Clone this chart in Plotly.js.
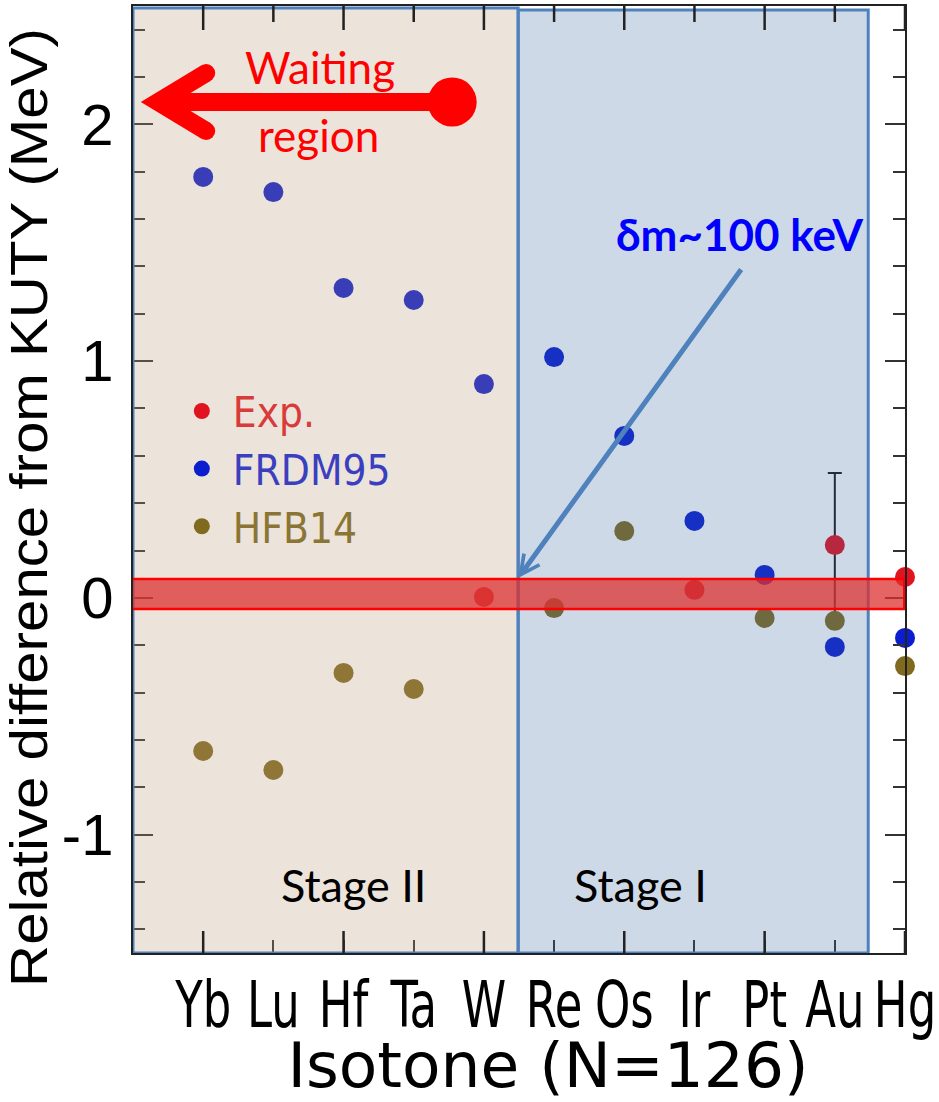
<!DOCTYPE html>
<html><head><meta charset="utf-8">
<script src="https://cdn.plot.ly/plotly-3.0.1.min.js"></script>
<style>html,body{margin:0;padding:0;background:#fff}#chart{width:939px;height:1102px}</style>
</head><body><div id="chart"></div>
<script>
// ---- data ----
const isotones = ['Yb','Lu','Hf','Ta','W','Re','Os','Ir','Pt','Au','Hg'];
const frdmNames = ['Yb','Lu','Hf','Ta','W','Re','Os','Ir','Pt','Au','Hg'];
const frdm95 = [1.778, 1.714, 1.309, 1.258, 0.903, 1.017, 0.684, 0.325, 0.097, -0.207, -0.169];
const hfbNames = ['Yb','Lu','Hf','Ta','Re','Os','Pt','Au','Hg'];
const hfb14 = [-0.647, -0.727, -0.317, -0.385, -0.043, 0.282, -0.085, -0.097, -0.288];
const expNames = ['W','Ir','Au','Hg'];
const expValues = [0.004, 0.034, 0.223, 0.088];
const expErrors = [NaN, NaN, 0.304, NaN];
const yTickVals = [-1, 0, 1, 2];
const yTickLabels = ['-1', '0', '1', '2'];

const idx = n => isotones.indexOf(n);
const allIdx = isotones.map((_, i) => i);
const evenIdx = allIdx.filter(i => i % 2 === 0);

const COND = '"DejaVu Sans Condensed", "Liberation Sans Narrow", sans-serif';
const ARIAL = '"Liberation Sans", Arial, sans-serif';
const CAL = 'Lato, "Open Sans", sans-serif';

const PLOT_H = 1102 - 6 - 149;   // plot-area height in px (for tick lengths in paper units)

const traces = [
  {
    type: 'scatter', mode: 'markers', name: '<span style="color:#D93A3A">Exp.</span>',
    x: expNames.map(idx), y: expValues, cliponaxis: false,
    marker: {color: '#E1131F', size: 20},
    error_y: {type: 'data', array: expErrors, visible: true, color: '#1a1a1a', thickness: 2, width: 7}
  },
  {
    type: 'scatter', mode: 'markers', name: '<span style="color:#3A3FBF">FRDM95</span>',
    x: frdmNames.map(idx), y: frdm95, cliponaxis: false,
    marker: {color: '#0A1ED0', size: 20}
  },
  {
    type: 'scatter', mode: 'markers', name: '<span style="color:#8B7535">HFB14</span>',
    x: hfbNames.map(idx), y: hfb14, cliponaxis: false,
    marker: {color: '#806A20', size: 20}
  }
];

// tick marks along the top edge and the longer bottom ticks at every second category
const tickShape = (i, yBase, lenPx, dir) => ({
  type: 'line', xref: 'x', yref: 'paper', layer: 'above', x0: i, x1: i,
  y0: yBase, y1: yBase + dir * lenPx / PLOT_H, line: {color: '#222', width: 2.5}
});
const tickShapes = [
  ...allIdx.map(i => tickShape(i, 1, evenIdx.includes(i) ? 24 : 16, -1)),
  ...evenIdx.map(i => tickShape(i, 0, 22, 1))
];

const shapes = [
  // Stage II region (tan, translucent)
  {type: 'rect', xref: 'x', yref: 'y', x0: -1, x1: 4.488, y0: -1.5, y1: 2.492, layer: 'above',
   fillcolor: 'rgba(185,152,119,0.27)', line: {color: '#4F81BD', width: 3}},
  // Stage I region (blue, translucent)
  {type: 'rect', xref: 'x', yref: 'y', x0: 4.488, x1: 9.476, y0: -1.5, y1: 2.483, layer: 'above',
   fillcolor: 'rgba(60,105,160,0.25)', line: {color: '#4F81BD', width: 3}},
  ...tickShapes,
  // red band around zero
  {type: 'rect', xref: 'x', yref: 'y', x0: -1.04, x1: 9.99, y0: -0.047, y1: 0.080, layer: 'above',
   fillcolor: 'rgba(220,50,50,0.75)', line: {color: '#FF0000', width: 2.5}},
  // waiting-region arrow: shaft
  {type: 'line', xref: 'x', yref: 'y', x0: -0.641, x1: 3.548, y0: 2.0945, y1: 2.0945, layer: 'above',
   line: {color: '#FF0000', width: 18}},
  // head
  {type: 'path', xref: 'x', yref: 'y', layer: 'above',
   path: 'M 0.043,2.217 L -0.641,2.0945 L 0.043,1.972', line: {color: '#FF0000', width: 18}},
  // round ends of head
  {type: 'circle', xref: 'x', yref: 'y', layer: 'above', x0: -0.0855, x1: 0.171, y0: 2.179, y1: 2.255,
   fillcolor: '#FF0000', line: {width: 0}},
  {type: 'circle', xref: 'x', yref: 'y', layer: 'above', x0: -0.0855, x1: 0.171, y0: 1.934, y1: 2.010,
   fillcolor: '#FF0000', line: {width: 0}},
  // dot at the tail
  {type: 'circle', xref: 'x', yref: 'y', layer: 'above', x0: 3.199, x1: 3.897, y0: 1.991, y1: 2.198,
   fillcolor: '#FF0000', line: {width: 0}}
];

const annotations = [
  {xref: 'x', yref: 'y', x: 1.667, y: 2.242, text: 'Waiting', showarrow: false,
   font: {family: CAL, size: 44, color: '#FF0000'}},
  {xref: 'x', yref: 'y', x: 1.639, y: 1.955, text: 'region', showarrow: false,
   font: {family: CAL, size: 44, color: '#FF0000'}},
  {xref: 'x', yref: 'y', x: 7.652, y: 1.537, text: '<b>δm~100 keV</b>', showarrow: false,
   font: {family: CAL, size: 44, color: '#0000FF'}},
  {xref: 'x', yref: 'y', x: 4.488, y: 0.084, axref: 'x', ayref: 'y', ax: 7.68, ay: 1.393,
   text: '', showarrow: true, arrowhead: 5, arrowsize: 0.75, arrowwidth: 5, arrowcolor: '#4F81BD', standoff: 0},
  {xref: 'x', yref: 'y', x: 2.137, y: -1.213, text: 'Stage II', showarrow: false,
   font: {family: CAL, size: 45, color: '#000'}},
  {xref: 'x', yref: 'y', x: 6.227, y: -1.213, text: 'Stage I', showarrow: false,
   font: {family: CAL, size: 45, color: '#000'}}
];

const layout = {
  width: 939, height: 1102,
  margin: {l: 133, r: 34, t: 6, b: 149},
  paper_bgcolor: '#fff', plot_bgcolor: '#fff',
  showlegend: true,
  legend: {x: 0.049, y: 0.608, xanchor: 'left', yanchor: 'top', bgcolor: 'rgba(0,0,0,0)',
           font: {family: COND, size: 42, color: '#000'}, itemwidth: 52},
  xaxis: {
    range: [-1, 10], tickmode: 'array', tickvals: allIdx, ticktext: isotones, tickangle: 0,
    ticks: 'inside', ticklen: 13, tickwidth: 2, tickcolor: '#333',
    showline: true, linecolor: '#222', linewidth: 2, mirror: true,
    showgrid: false, zeroline: false, automargin: false, ticklabeloverflow: 'allow',
    tickfont: {family: COND, size: 64, color: '#000'}, ticklabelstandoff: 0,
    title: {text: 'Isotone (N=126)', font: {family: '"DejaVu Sans", Verdana, sans-serif', size: 63, color: '#000'}, standoff: 8}
  },
  yaxis: {
    range: [-1.5, 2.5], tickmode: 'array', tickvals: yTickVals, ticktext: yTickLabels,
    ticks: 'inside', ticklen: 20, tickwidth: 2, tickcolor: '#333',
    minor: {dtick: 0.2, tick0: 0, ticks: 'inside', ticklen: 12, tickwidth: 2, tickcolor: '#333', showgrid: false},
    showline: true, linecolor: '#222', linewidth: 2, mirror: 'allticks',
    showgrid: false, zeroline: false, automargin: false,
    tickfont: {family: ARIAL, size: 58, color: '#000'}, ticklabelstandoff: 6,
    title: {text: 'Relative difference from KUTY (MeV)', font: {family: ARIAL, size: 52, color: '#000'}, standoff: 4}
  },
  shapes: shapes,
  annotations: annotations
};

Plotly.newPlot('chart', traces, layout, {staticPlot: true, displayModeBar: false}).then(gd => {
  // the reference's category labels are horizontally compressed
  gd.querySelectorAll('.xtick text').forEach(t => {
    const tr = t.getAttribute('transform') || '';
    t.setAttribute('transform', tr + ' translate(0,-5) scale(0.78,1)');
  });
  // titles sit slightly off-centre in the reference; y title is stretched along its length
  const xt = gd.querySelector('.xtitle');
  if (xt) xt.setAttribute('transform', (xt.getAttribute('transform') || '') + ' translate(29,0)');
  const yt = gd.querySelector('.ytitle');
  if (yt) {
    const px = parseFloat(yt.getAttribute('x')) || 0;
    const py = parseFloat(yt.getAttribute('y')) || 0;
    yt.setAttribute('transform',
      `rotate(-90,${px},${py}) translate(-28,0) translate(${px},${py}) scale(1.12,1) translate(${-px},${-py})`);
  }
});
</script>
</body></html>
